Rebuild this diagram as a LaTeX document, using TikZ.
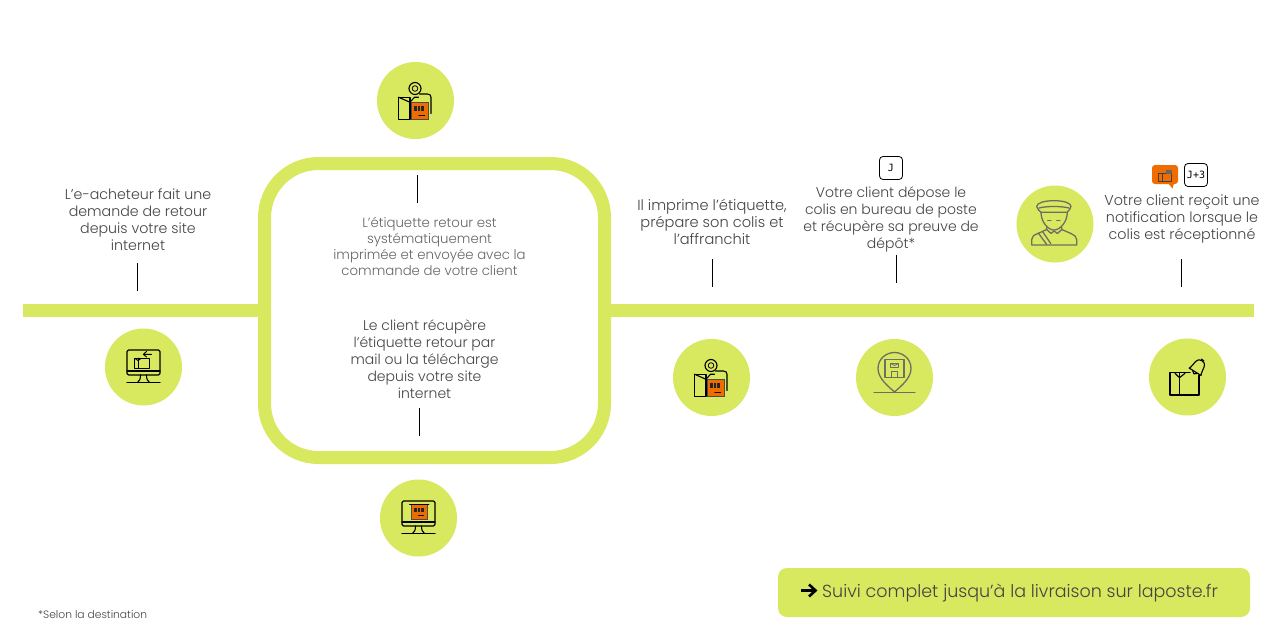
\documentclass[tikz,border=0pt]{standalone}
\usepackage{fontspec}
\setmainfont{Poppins Light}
\newfontfamily\djv{DejaVu Sans Mono}
\definecolor{lime}{HTML}{D8E85F}
\definecolor{org}{HTML}{EE6C00}
\definecolor{txt}{HTML}{444444}
\definecolor{txtl}{HTML}{666666}
\definecolor{icg}{HTML}{6E6F64}
\newcommand{\barcode}[2]{% x,y top-left in local px
  \foreach \dx/\w in {0/.5,1.3/.4,2.4/.6,4/.4,5.2/.5,6.6/.4,7.8/.6,9/.4}{
    \fill[black!85] (#1+\dx,#2) rectangle (#1+\dx+\w,#2+4.7);}}
\newcommand{\orgbox}[4]{% x1,y1,x2,y2
  \fill[org] (#1,#2) rectangle (#3,#4);
  \draw[line width=.7pt,black!70] (#1,#2) rectangle (#3,#4);}
\newcommand{\monitor}{%
  \draw[icon,rounded corners=1.5pt] (-16.5,-17) rectangle (16.5,8);
  \draw[icon] (-16.5,4) -- (16.5,4);
  \draw[icon] (-3,8) .. controls (-3,12) and (-4,14) .. (-6,15.5);
  \draw[icon] (3,8) .. controls (3,12) and (4,14) .. (6,15.5);
  \draw[icon] (-16.5,15.5) -- (16.5,15.5);}
\newcommand{\pkgicon}{%
  \draw[icon] (-.5,-12) circle (6);
  \draw[icon,line width=.8pt] (-.5,-12) circle (2.8);
  \orgbox{-4.5}{1.8}{12.8}{19.3}
  \barcode{-1.5}{5.5}
  \draw[icon] (3.5,15) -- (9,15);
  \draw[icon] (-17,-3.3) rectangle (-5.5,19.3);
  \draw[icon] (-17,-3.3) -- (-5.5,1.8) -- (-1,-3.3) -- (3,-3.3);
  \draw[icon] (-17,-3.3) -- (-6,-3.3);
  \draw[icon] (4,-6.5) -- (12,-6.5) .. controls (14.5,-6.5) and (15.5,-5) .. (15.5,-3) -- (15.5,13);}
\tikzset{
  x=1pt,y=-1pt,
  blob/.style={circle,fill=lime,draw=none,minimum size=77pt,inner sep=0pt},
  tick/.style={draw=black,line width=.8pt},
  icon/.style={draw=black,line width=1.1pt,line cap=round,line join=round},
  gicon/.style={draw=icg,line width=1.3pt,line cap=round,line join=round},
  lab/.style={align=center,text=txt,inner sep=0pt,font=\fontsize{#1}{17}\selectfont},
  lab/.default=14.3,
  labs/.style={align=center,text=txtl,inner sep=0pt,font=\fontsize{13.3}{16}\selectfont},
  daybox/.style={draw=black,line width=.8pt,rounded corners=3.5pt,fill=white,minimum width=23pt,minimum height=23pt,inner sep=0pt,font=\djv\fontsize{10}{10}\selectfont},
}
\begin{document}
\begin{tikzpicture}
\useasboundingbox[fill=white] (0,0) rectangle (1275,632);
% bar and frame
\fill[lime] (23,304) rectangle (258,317);
\fill[lime] (611,304) rectangle (1254,317);
\draw[lime,line width=13pt,rounded corners=54pt] (264.5,163.5) rectangle (604.5,457.5);
% circles
\node[blob] (c1) at (143.5,367) {};
\node[blob] (c2) at (415.5,100.5) {};
\node[blob] (c3) at (418.5,518) {};
\node[blob] (c4) at (711.5,377.5) {};
\node[blob] (c5) at (894.5,377.5) {};
\node[blob] (c6) at (1055,224) {};
\node[blob] (c7) at (1187.5,377) {};
% labels
\node[lab=14.2] (t1) at (138,219.5) {L’e-acheteur fait une\\demande de retour\\depuis votre site\\internet};
\node[labs] (t2) at (429.5,246.2) {L’étiquette retour est\\systématiquement\\imprimée et envoyée avec la\\commande de votre client};
\node[lab=14] (t3) at (424.5,359) {Le client récupère\\l’étiquette retour par\\mail ou la télécharge\\depuis votre site\\internet};
\node[lab=14.6] (t4) at (712,222) {Il imprime l’étiquette,\\prépare son colis et\\l’affranchit};
\node[lab=14] (t5) at (891,219.5) {Votre client dépose le\\colis en bureau de poste\\et récupère sa preuve de\\dépôt*};
\node[lab] (t6) at (1182,219) {Votre client reçoit une\\notification lorsque le\\colis est réceptionné};
\node[inner sep=0pt,anchor=west,text=txt,font=\fontsize{10.7}{13}\selectfont] (fn) at (38,614.6) {*Selon la destination};
% ticks
\coordinate (a1) at (137.5,263); \coordinate (b1) at (137.5,291);
\coordinate (a2) at (417.5,175); \coordinate (b2) at (417.5,203);
\coordinate (a3) at (419.5,408); \coordinate (b3) at (419.5,436);
\coordinate (a4) at (712.5,259); \coordinate (b4) at (712.5,287);
\coordinate (a5) at (896.5,255); \coordinate (b5) at (896.5,283);
\coordinate (a6) at (1181.5,259); \coordinate (b6) at (1181.5,287);
\foreach \i in {1,...,6}{\draw[tick] (a\i) -- (b\i);}
% day boxes
\node[daybox] (j0) at (891,168) {J};
\node[daybox] (j3) at (1196,175) {J+3};
% bubble
\fill[org,rounded corners=3pt] (1152,165) rectangle (1178,184);
\fill[org] (1168,183) -- (1174,183) -- (1172.5,188.5) -- cycle;
\begin{scope}[shift={(1158,170)}]
 \draw[black!75,line width=.6pt] (0,3) rectangle (13,11.5);
 \draw[black!75,line width=.6pt] (4.5,3) -- (4.5,11.5);
 \fill[black!60] (8,0) rectangle (14,4);
\end{scope}
% icon 1 : monitor + return box
\begin{scope}[shift={(143.5,367)}]
 \monitor
 \draw[icon,line width=.9pt] (-9.5,-9) rectangle (5.5,1);
 \draw[icon,line width=.9pt] (-5.5,-9) -- (-5.5,1);
 \draw[icon,line width=.9pt] (-8.5,-8.5) -- (-5.5,-6.5) -- (-2.5,-8.5);
 \draw[icon,line width=.9pt] (8,-12.7) -- (0,-12.7) (3,-15.5) -- (-.2,-12.7) -- (3,-10);
\end{scope}
% icon 2 and 4 : package + pin
\begin{scope}[shift={(415.5,100.5)}] \pkgicon \end{scope}
\begin{scope}[shift={(711.5,377.5)}] \pkgicon \end{scope}
% icon 3 : monitor + label
\begin{scope}[shift={(418.5,518)}]
 \monitor
 \orgbox{-7}{-13.5}{8.5}{1.5}
 \draw[icon,line width=.9pt] (-9,-14) -- (10.5,-14);
 \barcode{-4.5}{-10.5}
 \draw[icon,line width=.9pt] (0,-3) -- (5,-3);
\end{scope}
% icon 5 : post office pin
\begin{scope}[shift={(894.5,377.5)}]
 \draw[gicon] (0,14.5) .. controls (-6,9) and (-16.5,1) .. (-16.5,-9)
   .. controls (-16.5,-19) and (-8,-25) .. (0,-25)
   .. controls (8,-25) and (16.5,-19) .. (16.5,-9)
   .. controls (16.5,1) and (6,9) .. (0,14.5);
 \draw[gicon] (-20.5,15) -- (20.5,15);
 \draw[gicon] (-9.5,-18) rectangle (9.5,0);
 \draw[gicon] (-3.3,0) -- (-3.3,-6) -- (3.3,-6) -- (3.3,0);
 \draw[gicon,line width=.8pt] (-4,-14) rectangle (4,-10);
 \draw[gicon,line width=.8pt] (-4,-14) -- (0,-12) -- (4,-14);
\end{scope}
% icon 6 : postman
\begin{scope}[shift={(1055,224)}]
 % cap
 \draw[gicon] (-1,-23.3) .. controls (9,-23.3) and (16,-21) .. (16,-17.5)
   .. controls (16,-14.5) and (13,-13.5) .. (12,-11.7) -- (-14,-11.7)
   .. controls (-15,-13.5) and (-18.3,-14.5) .. (-18.3,-17.5)
   .. controls (-18.3,-21) and (-11,-23.3) .. (-1,-23.3);
 \draw[gicon] (-16,-16) .. controls (-8,-18) and (6,-18) .. (14,-16);
 % face
 \draw[gicon] (-14,-11.7) .. controls (-14,-2) and (-7,6) .. (-1,6) .. controls (5,6) and (12.3,-2) .. (12.3,-11.7);
 \draw[gicon] (-7.3,-3.3) -- (-4,-3.3) (1.7,-3.3) -- (5,-3.3);
 % collar
 \draw[gicon] (-8.3,3) -- (-8.3,5.5) -- (-4,9.5) -- (-1,7) -- (2.5,9.5) -- (6.7,5.5) -- (6.7,3);
 % shoulders
 \draw[gicon] (-8.3,5.5) -- (-17,9.5) .. controls (-21,11) and (-23.3,12.5) .. (-23.3,15.5) -- (-23.3,21) -- (21.7,21) -- (21.7,15.5)
   .. controls (21.7,12.5) and (19,11) .. (16,9.5) -- (6.7,5.5);
 \draw[gicon] (-16.7,9) -- (-8.3,20.5) (-12.3,7.7) -- (-4.3,19.5);
\end{scope}
% icon 7 : box + bell
\begin{scope}[shift={(1187.5,377)}]
 \draw[icon] (2.5,-4.3) -- (-17.5,-4.3) -- (-17.5,18) -- (11.5,18) -- (11.5,-2);
 \draw[icon] (-8,-4.3) -- (-8,18);
 \draw[icon] (-12.5,-3.7) -- (-8,.7) -- (-2.5,-3.7);
 \begin{scope}[shift={(10.8,-10.3)},rotate=-32]
  \draw[icon] (-7,6) .. controls (-5.5,4) and (-6,0) .. (-5,-3)
    .. controls (-4,-6.5) and (-2,-7) .. (0,-7)
    .. controls (2,-7) and (4,-6.5) .. (5,-3)
    .. controls (6,0) and (5.5,4) .. (7,6) -- cycle;
  \draw[icon] (-2.5,6.5) .. controls (-1.5,9) and (1.5,9) .. (2.5,6.5);
  \draw[icon] (-1.5,-8) -- (1.5,-8);
 \end{scope}
\end{scope}
% button
\node[fill=lime,rounded corners=9pt,minimum width=472pt,minimum height=49pt,inner sep=0pt] (btn) at (1014,592.5) {};
\node[inner sep=0pt,anchor=west,text=txt,font=\fontsize{17.5}{20}\selectfont] (btxt) at (822,593.3) {Suivi complet jusqu’à la livraison sur laposte.fr};
\draw[black,line width=2.6pt] (801,590.5) -- (815,590.5);
\draw[black,line width=2.6pt] (809,584.5) -- (815.5,590.5) -- (809,596.5);
\end{tikzpicture}
\end{document}
